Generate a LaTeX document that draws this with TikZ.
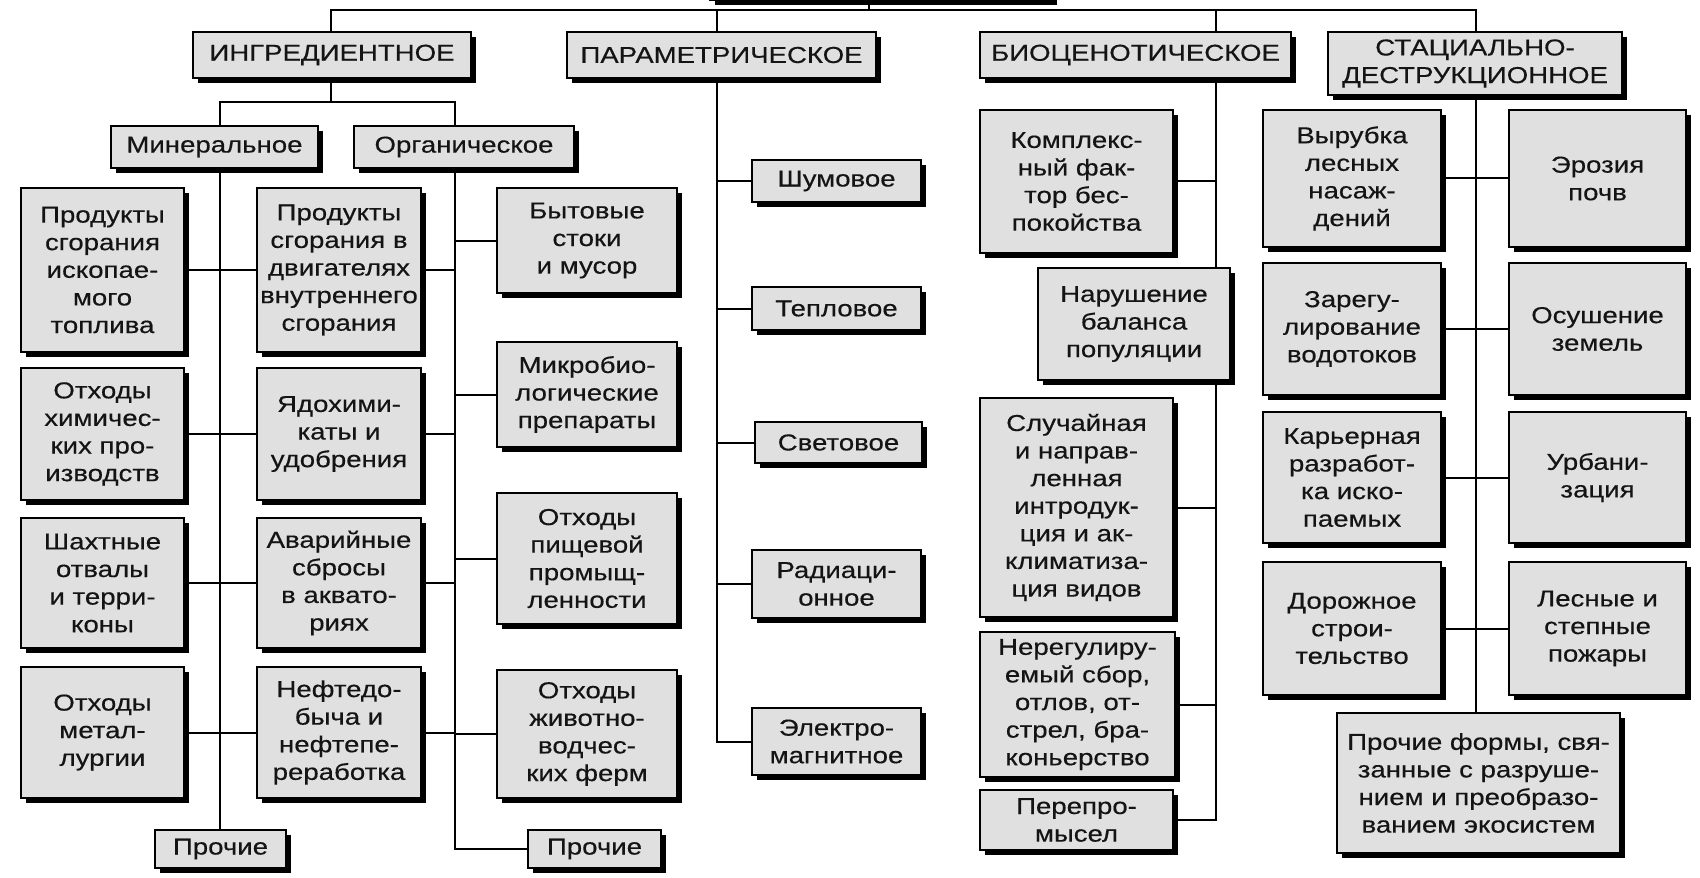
\documentclass[tikz,border=0pt]{standalone}
\usepackage{fontspec}
\setmainfont[FakeStretch=1.2,FakeBold=0.4]{Liberation Sans}
\usetikzlibrary{shadows}
\pgfdeclarelayer{bg}
\pgfsetlayers{bg,main}
\tikzset{
  bxs/.style={draw=black, line width=1.2pt, fill=black!12, inner sep=0pt, outer sep=0pt,
    align=center, text=black!92, font=\fontsize{11.5}{13.8}\selectfont,
    general shadow={fill=black, shadow xshift=2.6pt, shadow yshift=-2.6pt}},
  cn/.style={draw=black, line width=1pt}
}
\newcommand\mkbox[6]{\node[bxs, minimum width={(#4-#2)*0.5pt}, minimum height={(#5-#3)*0.5pt}] (#1) at ({(#2+#4)/2},{(#3+#5)/2}) {#6};}
\begin{document}
\begin{tikzpicture}[x=0.5pt,y=-0.5pt]
\useasboundingbox (0,0) rectangle (1700,877);
% title (cut off at top)
\mkbox{title}{710}{-40}{1052}{0}{}
% level 1
\mkbox{ing}{193}{32}{471}{78}{ИНГРЕДИЕНТНОЕ}
\mkbox{par}{567}{32}{876}{78}{ПАРАМЕТРИЧЕСКОЕ}
\mkbox{bio}{980}{32}{1291}{78}{БИОЦЕНОТИЧЕСКОЕ}
\mkbox{stac}{1328}{32}{1622}{95}{СТАЦИАЛЬНО-\\ДЕСТРУКЦИОННОЕ}
% ingredient
\mkbox{min}{111}{126}{318}{168}{Минеральное}
\mkbox{org}{354}{126}{574}{168}{Органическое}
\mkbox{l1}{21}{188}{184}{352}{Продукты\\сгорания\\ископае-\\мого\\топлива}
\mkbox{l2}{21}{368}{184}{500}{Отходы\\химичес-\\ких про-\\изводств}
\mkbox{l3}{21}{518}{184}{648}{Шахтные\\отвалы\\и терри-\\коны}
\mkbox{l4}{21}{667}{184}{798}{Отходы\\метал-\\лургии}
\mkbox{c1}{257}{188}{421}{352}{Продукты\\сгорания в\\двигателях\\внутреннего\\сгорания}
\mkbox{c2}{257}{368}{421}{500}{Ядохими-\\каты и\\удобрения}
\mkbox{c3}{257}{518}{421}{648}{Аварийные\\сбросы\\в аквато-\\риях}
\mkbox{c4}{257}{667}{421}{798}{Нефтедо-\\быча и\\нефтепе-\\реработка}
\mkbox{r1}{497}{188}{677}{293}{Бытовые\\стоки\\и мусор}
\mkbox{r2}{497}{342}{677}{447}{Микробио-\\логические\\препараты}
\mkbox{r3}{497}{493}{677}{624}{Отходы\\пищевой\\промыщ-\\ленности}
\mkbox{r4}{497}{670}{677}{798}{Отходы\\животно-\\водчес-\\ких ферм}
\mkbox{pr1}{155}{830}{286}{868}{Прочие}
\mkbox{pr2}{528}{830}{661}{868}{Прочие}
% parametric
\mkbox{p1}{752}{160}{921}{202}{Шумовое}
\mkbox{p2}{752}{287}{921}{330}{Тепловое}
\mkbox{p3}{755}{422}{922}{463}{Световое}
\mkbox{p4}{752}{550}{921}{618}{Радиаци-\\онное}
\mkbox{p5}{752}{708}{921}{775}{Электро-\\магнитное}
% biocenotic
\mkbox{b1}{980}{110}{1173}{253}{Комплекс-\\ный фак-\\тор бес-\\покойства}
\mkbox{b2}{1038}{268}{1230}{380}{Нарушение\\баланса\\популяции}
\mkbox{b3}{980}{398}{1173}{617}{Случайная\\и направ-\\ленная\\интродук-\\ция и ак-\\климатиза-\\ция видов}
\mkbox{b4}{980}{632}{1175}{777}{Нерегулиру-\\емый сбор,\\отлов, от-\\стрел, бра-\\коньерство}
\mkbox{b5}{980}{790}{1173}{850}{Перепро-\\мысел}
% stacial
\mkbox{s1}{1263}{110}{1441}{247}{Вырубка\\лесных\\насаж-\\дений}
\mkbox{s2}{1509}{110}{1686}{247}{Эрозия\\почв}
\mkbox{s3}{1263}{263}{1441}{395}{Зарегу-\\лирование\\водотоков}
\mkbox{s4}{1509}{263}{1686}{395}{Осушение\\земель}
\mkbox{s5}{1263}{412}{1441}{543}{Карьерная\\разработ-\\ка иско-\\паемых}
\mkbox{s6}{1509}{412}{1686}{543}{Урбани-\\зация}
\mkbox{s7}{1263}{562}{1441}{695}{Дорожное\\строи-\\тельство}
\mkbox{s8}{1509}{562}{1686}{695}{Лесные и\\степные\\пожары}
\mkbox{s9}{1337}{713}{1620}{853}{Прочие формы, свя-\\занные с разруше-\\нием и преобразо-\\ванием экосистем}
% connector coordinates
\coordinate (tl) at (331,10);
\coordinate (tr) at (1476,10);
\coordinate (pv) at (717,10);
\coordinate (bv) at (1216,10);
\coordinate (tt) at (869,10);
\coordinate (ij) at (331,102);
\coordinate (mv) at (220,102);
\coordinate (ov) at (455,102);
\begin{pgfonlayer}{bg}
\draw[cn] (tl |- ing.north) -- (tl) -- (tr) -- (tr |- stac.north);
\draw[cn] (pv) -- (pv |- par.north);
\draw[cn] (bv) -- (bv |- bio.north);
\draw[cn] (tt) -- (tt |- title.south);
% ingredient
\draw[cn] (tl |- ing.south) -- (ij);
\draw[cn] (mv |- min.north) -- (mv) -- (ov) -- (ov |- org.north);
\draw[cn] (mv |- min.south) -- (mv |- pr1.north);
\draw[cn] (ov |- org.south) |- (pr2.west);
\foreach \i in {1,2,3,4}{
  \draw[cn] (l\i.east) -- (c\i.west);
  \draw[cn] (c\i.east) -- (c\i.east -| ov);
  \draw[cn] (r\i.west) -- (r\i.west -| ov);
}
% parametric
\draw[cn] (pv |- par.south) |- (p5.west);
\foreach \i in {1,2,3,4}{\draw[cn] (p\i.west) -- (p\i.west -| pv);}
% biocenotic
\draw[cn] (bv |- bio.south) |- (b5.east);
\foreach \i in {1,3,4}{\draw[cn] (b\i.east) -- (b\i.east -| bv);}
% stacial
\draw[cn] (tr |- stac.south) -- (tr |- s9.north);
\draw[cn] (s1.east) -- (s2.west);
\draw[cn] (s3.east) -- (s4.west);
\draw[cn] (s5.east) -- (s6.west);
\draw[cn] (s7.east) -- (s8.west);
\end{pgfonlayer}
\end{tikzpicture}
\end{document}
